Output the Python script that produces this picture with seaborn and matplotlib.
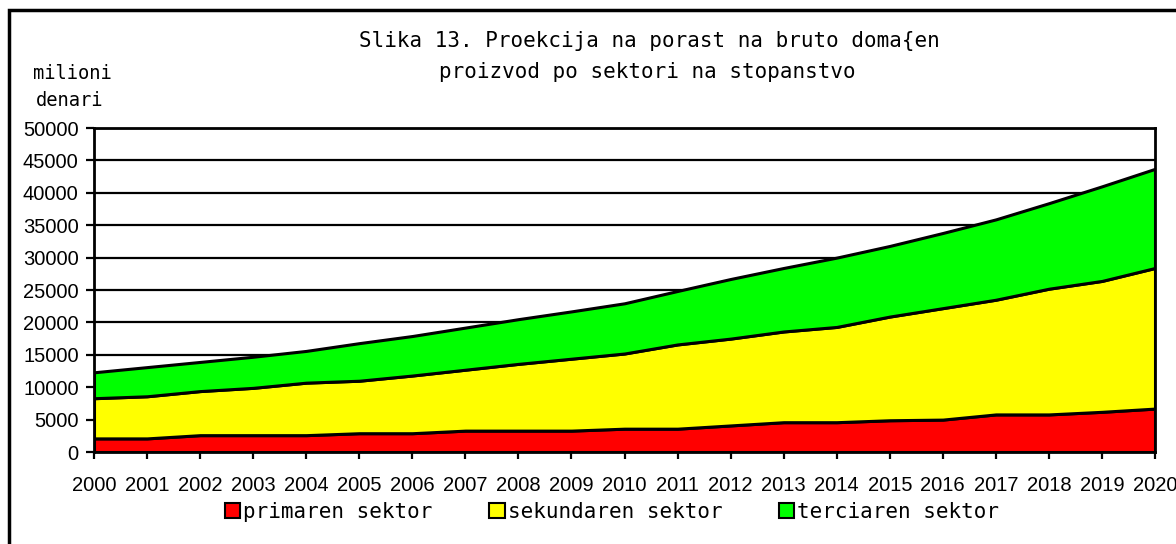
import numpy as np
import pandas as pd
import seaborn as sns
import matplotlib.pyplot as plt
from matplotlib.patches import Patch, Rectangle

# godini i sektori
godini = list(range(2000, 2021))
primaren = [2100, 2100, 2600, 2600, 2600, 2900, 2900, 3300, 3300, 3300, 3600,
            3600, 4100, 4600, 4600, 4900, 5000, 5800, 5800, 6200, 6700]
sekundaren = [6200, 6500, 6800, 7300, 8100, 8100, 8900, 9400, 10300, 11100, 11600,
              13000, 13400, 14000, 14700, 16000, 17200, 17700, 19400, 20200, 21700]
tercijaren = [4000, 4500, 4500, 4800, 4900, 5800, 6100, 6500, 6900, 7300, 7750,
              8250, 9200, 9800, 10700, 10900, 11600, 12400, 13200, 14600, 15300]
sektori = ['primaren sektor', 'sekundaren sektor', 'terciaren sektor']
boi = ['#ff0000', '#ffff00', '#00ff00']

df = pd.DataFrame({'godina': godini, sektori[0]: primaren,
                   sektori[1]: sekundaren, sektori[2]: tercijaren})

sns.set_style('white')
plt.rcParams['font.family'] = ['Liberation Sans', 'DejaVu Sans']
plt.rcParams['text.color'] = 'black'
mono = ['DejaVu Sans Mono', 'DejaVu Sans']

fig = plt.figure(figsize=(11.76, 5.44), dpi=100)
ax = fig.add_axes([94/1176, 1-452/544, (1155-94)/1176, (452-128)/544])

ax.stackplot(df['godina'], df[sektori[0]], df[sektori[1]], df[sektori[2]],
             colors=boi, edgecolor='black', linewidth=2.2, zorder=3)

ax.set_xlim(2000, 2020)
ax.set_ylim(0, 50000)
ax.set_xticks(godini)
ax.set_xticklabels([str(g) for g in godini], fontsize=14.5)
ax.set_yticks(np.arange(0, 50001, 5000))
ax.set_yticklabels([str(v) for v in range(0, 50001, 5000)], fontsize=14.5)
ax.yaxis.grid(True, color='black', linewidth=1.6, zorder=1)
ax.set_axisbelow(True)
for s in ax.spines.values():
    s.set_color('black')
    s.set_linewidth(2)
    s.set_zorder(4)
ax.tick_params(axis='y', direction='out', length=6, width=1.6, pad=5, colors='black', left=True)
ax.tick_params(axis='x', direction='out', length=5, width=1.6, pad=12, colors='black', bottom=True)

# naslov
fig.text(649/1176, 1-47/544, 'Slika 13. Proekcija na porast na bruto doma{en',
         ha='center', va='baseline', fontsize=15, family=mono)
fig.text(647/1176, 1-78/544, 'proizvod po sektori na stopanstvo',
         ha='center', va='baseline', fontsize=15, family=mono)
fig.text(72/1176, 1-79/544, 'milioni', ha='center', va='baseline', fontsize=13.5, family=mono)
fig.text(70/1176, 1-106/544, 'denari', ha='center', va='baseline', fontsize=13.5, family=mono)

# legenda
handles = [Patch(facecolor=c, edgecolor='black', linewidth=1.5) for c in boi]
fig.legend(handles, sektori, loc='center', bbox_to_anchor=(612/1176, 1-512/544),
           ncol=3, frameon=False, prop={'family': mono, 'size': 15},
           handlelength=0.75, handleheight=0.75, handletextpad=0.15, columnspacing=2.7)

# ramka
fig.patches.append(Rectangle((9/1176, -0.05), 1.2, 1-10/544+0.05, transform=fig.transFigure,
                             fill=False, edgecolor='black', linewidth=2.5))

fig.savefig('out.png', dpi=100)
